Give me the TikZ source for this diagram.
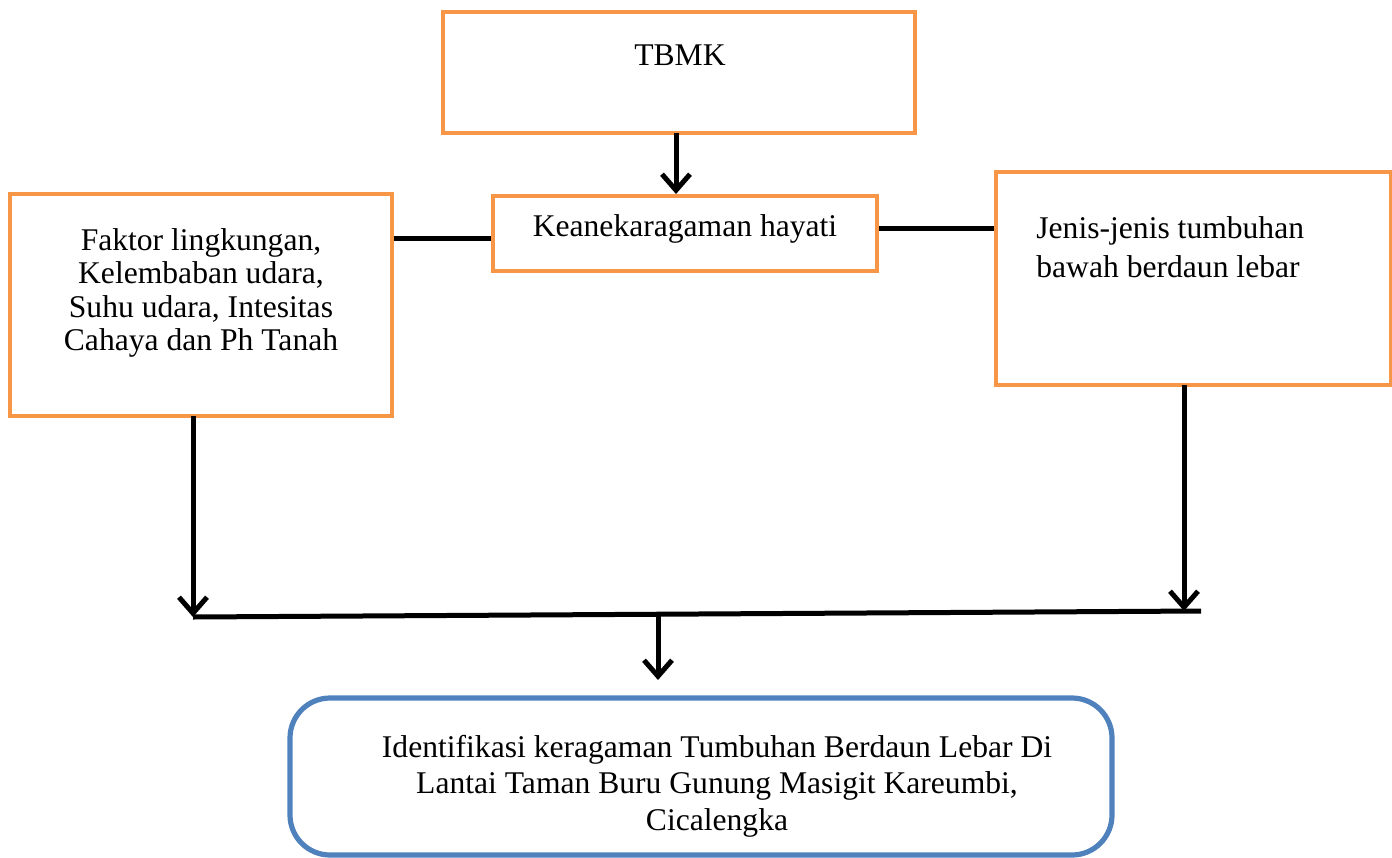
\documentclass[tikz,border=0pt]{standalone}
\usepackage{fontspec}
\setmainfont{Liberation Serif}
\usetikzlibrary{arrows.meta}
\definecolor{orng}{HTML}{F79646}
\definecolor{blu}{HTML}{4F81BD}
\tikzset{
  obox/.style={draw=orng,line width=2pt,inner sep=0pt},
  bbox/.style={draw=blu,line width=2.6pt,rounded corners=20pt,inner sep=0pt},
  conn/.style={line width=2.5pt,black},
  arr/.style={conn,-{Straight Barb[length=8pt,width=14pt,line width=2.5pt]}},
  txt/.style={font=\fontsize{15.8pt}{16.5pt}\selectfont,inner sep=0pt}
}
\begin{document}
\begin{tikzpicture}[x=0.5pt,y=-0.5pt]
\useasboundingbox (0,0) rectangle (1392,857);
% boxes
\node[obox,minimum width=236pt,minimum height=60.5pt] (tbmk) at (679,72.5) {};
\node[obox,minimum width=192pt,minimum height=37.5pt] (kean) at (685,233.5) {};
\node[obox,minimum width=191pt,minimum height=111pt] (faktor) at (201,305) {};
\node[obox,minimum width=197.5pt,minimum height=106.5pt] (jenis) at (1193,278.5) {};
\node[bbox,minimum width=411pt,minimum height=78.5pt] (ident) at (701,776.5) {};
% texts
\node[txt] (ttbmk) at (680,55) {TBMK};
\node[txt] (tkean) at (685,229) {Keanekaragaman hayati};
\node[txt,align=center,font=\fontsize{15.8pt}{16.8pt}\selectfont] (tfaktor) at (201,293) {Faktor lingkungan,\\Kelembaban udara,\\Suhu udara, Intesitas\\Cahaya dan Ph Tanah};
\node[txt,align=left,anchor=west,font=\fontsize{15.8pt}{19.8pt}\selectfont] (tjenis) at (1036,247) {Jenis-jenis tumbuhan\\bawah berdaun lebar};
\node[txt,align=center,font=\fontsize{15.8pt}{18.3pt}\selectfont] (tident) at (717,786) {Identifikasi keragaman Tumbuhan Berdaun Lebar Di\\Lantai Taman Buru Gunung Masigit Kareumbi,\\Cicalengka};
% connector points
\coordinate (jl) at (193,617);
\coordinate (jr) at (1201,611);
\coordinate (jm) at (658,614);
\coordinate (lf) at (193,416);
\coordinate (rj) at (1184,385);
\coordinate (ta) at (676,133);
% connectors
\draw[arr] (ta) -- (ta |- kean.north);
\draw[conn] (faktor.east |- 0,238) -- (kean.west |- 0,238);
\draw[conn] (kean.east |- 0,228) -- (jenis.west |- 0,228);
\draw[arr] (lf) -- (jl);
\draw[arr] (rj) -- (1184,611);
\draw[conn] (jl) -- (jr);
\draw[arr] (jm) -- (658,680);
\end{tikzpicture}
\end{document}
